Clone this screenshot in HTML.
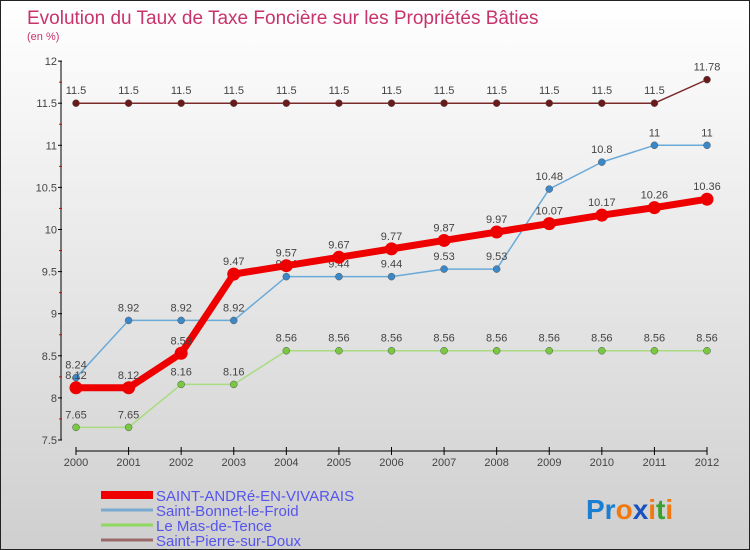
<!DOCTYPE html>
<html><head><meta charset="utf-8"><style>
body{margin:0;}
#wrap{width:750px;height:550px;position:relative;overflow:hidden;box-sizing:border-box;border:1px solid #222;background:linear-gradient(#ffffff,#cfcfcf);font-family:"Liberation Sans",sans-serif;}
svg text{font-family:"Liberation Sans",sans-serif;}
</style></head><body>
<div id="wrap">
<svg width="750" height="550" id="svg">
<text x="26" y="23" font-size="19" fill="#c8336b">Evolution du Taux de Taxe Foncière sur les Propriétés Bâties</text>
<text x="26" y="39" font-size="11" fill="#c8336b">(en %)</text>
<g id="axes"></g><g id="series"></g><g id="legend"></g>
<text x="585" y="518" font-size="28" font-weight="bold"><tspan fill="#1a7fd0">Pr</tspan><tspan fill="#f07a10">o</tspan><tspan fill="#1a50c0">x</tspan><tspan fill="#f07a10">i</tspan><tspan fill="#3aa030">t</tspan><tspan fill="#f07a10">i</tspan></text>
</svg></div>
<script>
const years=[2000,2001,2002,2003,2004,2005,2006,2007,2008,2009,2010,2011,2012];
const yTicks=[7.5,8,8.5,9,9.5,10,10.5,11,11.5,12];
const sAndre=[8.12,8.12,8.53,9.47,9.57,9.67,9.77,9.87,9.97,10.07,10.17,10.26,10.36];
const sBonnet=[8.24,8.92,8.92,8.92,9.44,9.44,9.44,9.53,9.53,10.48,10.8,11,11];
const leMas=[7.65,7.65,8.16,8.16,8.56,8.56,8.56,8.56,8.56,8.56,8.56,8.56,8.56];
const sPierre=[11.5,11.5,11.5,11.5,11.5,11.5,11.5,11.5,11.5,11.5,11.5,11.5,11.78];
const names=["SAINT-ANDRé-EN-VIVARAIS","Saint-Bonnet-le-Froid","Le Mas-de-Tence","Saint-Pierre-sur-Doux"];
const NS="http://www.w3.org/2000/svg";
const X=i=>75+i*(706-75)/(years.length-1);
const Y=v=>439-(v-7.5)*84.2;
function mk(t,a,p){const e=document.createElementNS(NS,t);for(const k in a)e.setAttribute(k,a[k]);p.appendChild(e);return e;}
const ax=document.getElementById('axes');
let l=mk('line',{x1:60,y1:Y(12),x2:60,y2:Y(7.5),stroke:'#000'},ax);


l=mk('line',{x1:75,y1:450,x2:706,y2:450,stroke:'#000'},ax);


yTicks.forEach(v=>{mk('line',{x1:57,x2:61,y1:Y(v),y2:Y(v),stroke:'#000'},ax);
 if(v<12)mk('line',{x1:58,x2:61,y1:Y(v+0.25),y2:Y(v+0.25),stroke:'#d00'},ax);
 const t=mk('text',{x:56,y:Y(v)+4,'text-anchor':'end','font-size':11,fill:'#444'},ax);t.textContent=v;
 
 });
years.forEach((y,i)=>{mk('line',{x1:X(i),x2:X(i),y1:446,y2:454,stroke:'#000'},ax);
 const t=mk('text',{x:X(i),y:465,'text-anchor':'middle','font-size':11,fill:'#444'},ax);t.textContent=y;
 
 });
const sg=document.getElementById('series');
const defs=[[sPierre,'#7a2a2a','#6a1a1a',1.5,3.5],[leMas,'#a8dc80','#78c840',1.5,3.5],[sBonnet,'#6aaad8','#3a88c8',1.5,3.5],[sAndre,'#ee0000','#ee0000',7,6.5]];
const snames=['saint-pierre','le-mas','saint-bonnet','saint-andre'];
defs.forEach((d,k)=>{const g=mk('g',{},sg);
 
 
 mk('polyline',{points:d[0].map((v,i)=>X(i)+','+Y(v)).join(' '),fill:'none',stroke:d[1],'stroke-width':d[3],'stroke-linejoin':'round'},g);
 d[0].forEach((v,i)=>{const c=mk('circle',{cx:X(i),cy:Y(v),r:d[4],fill:d[2],stroke:k==3?'#ee0000':'#555','stroke-width':k==3?0:0.5},g);
  
  
  const t=mk('text',{x:X(i),y:Y(v)-9,'text-anchor':'middle','font-size':11,fill:'#444'},g);t.textContent=v;
  
  });});
const lg=document.getElementById('legend');
const lc=['#ee0000','#7aaad0','#90d860','#9a6a6a'],lw=[8,3,3,3];
names.forEach((n,i)=>{const y=494+i*15;
 const e=mk('line',{x1:100,x2:152,y1:y,y2:y,stroke:lc[i],'stroke-width':lw[i]},lg);
 
 
 const t=mk('text',{x:155,y:y+6,'font-size':15,fill:'#5555ee'},lg);t.textContent=n;
 
 });
</script>
</body></html>
